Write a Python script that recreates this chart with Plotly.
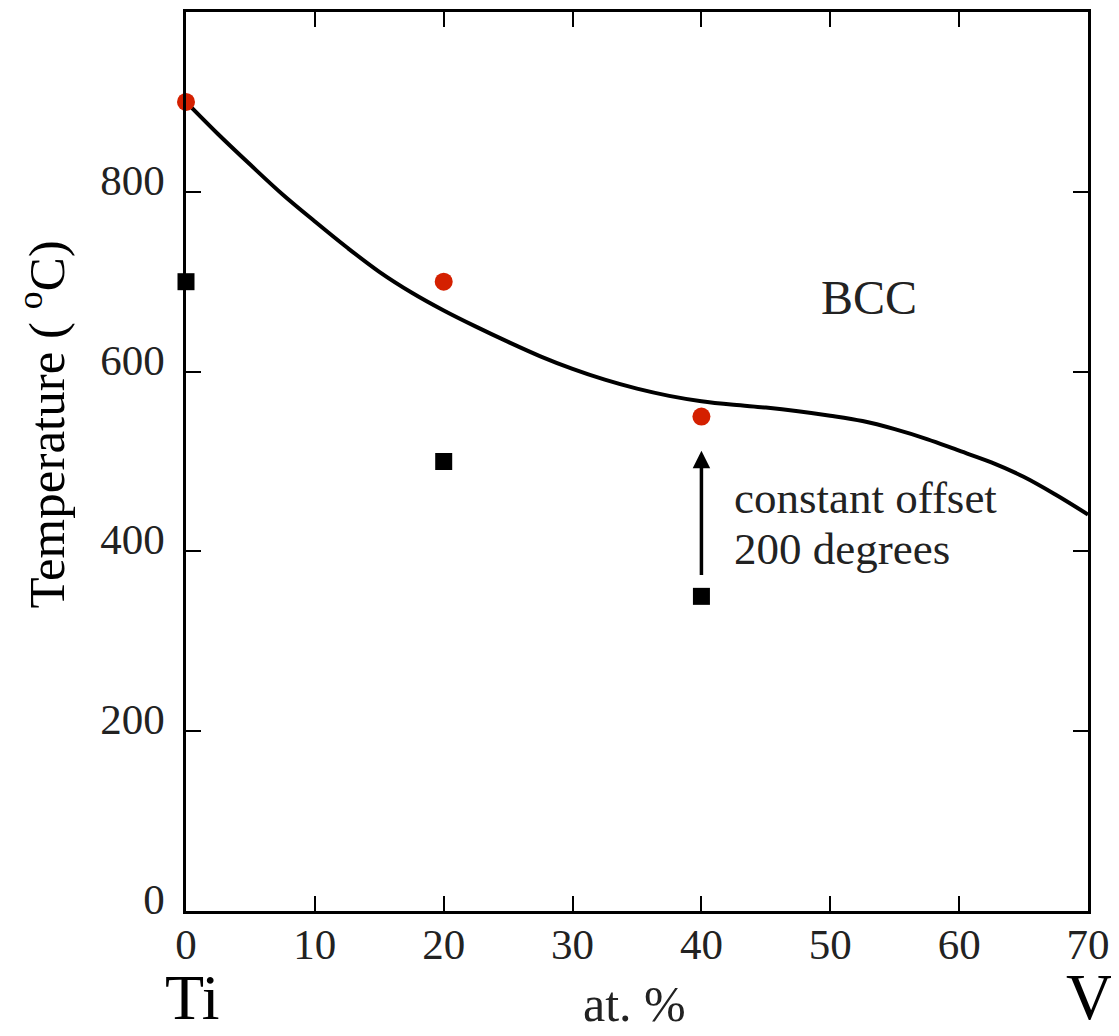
import plotly.graph_objects as go

# Data
curve_x = [0, 2.5, 5, 7.5, 10, 12.5, 15, 17.5, 20, 22.5, 25, 27.5, 30, 32.5, 35, 37.5,
           40, 42.5, 45, 47.5, 50, 52.5, 55, 57.5, 60, 62.5, 65, 67.5, 70]
curve_y = [900, 864, 830, 797, 767, 738, 711, 688, 668, 650, 633, 617, 603, 591, 581, 573,
           567, 563, 560, 556, 551, 545, 536, 525, 512, 499, 483, 463, 441]
red_x = [0, 20, 40]
red_y = [900, 700, 550]
sq_x = [0, 20, 40]
sq_y = [700, 500, 350]
x_ticks = [0, 10, 20, 30, 40, 50, 60, 70]
y_ticks = [0, 200, 400, 600, 800]

FONT = "Liberation Serif, Times New Roman, serif"
TXT = "#222"

fig = go.Figure()
fig.add_trace(go.Scatter(x=curve_x, y=curve_y, mode="lines",
                         line=dict(color="black", width=4, shape="spline", smoothing=1.0),
                         showlegend=False, hoverinfo="skip"))
fig.add_trace(go.Scatter(x=red_x, y=red_y, mode="markers",
                         marker=dict(color="#d42000", size=18, symbol="circle"),
                         cliponaxis=False, showlegend=False))
fig.add_trace(go.Scatter(x=sq_x, y=sq_y, mode="markers",
                         marker=dict(color="black", size=17, symbol="square"),
                         cliponaxis=False, showlegend=False))

axis_common = dict(showline=True, linecolor="black", linewidth=2.5, mirror="ticks",
                   ticks="inside", ticklen=15, tickwidth=2, tickcolor="black",
                   showgrid=False, zeroline=False,
                   tickfont=dict(family=FONT, size=43, color=TXT))

fig.update_xaxes(range=[0, 70], tickvals=x_ticks, ticktext=[str(v) for v in x_ticks],
                 ticklabelstandoff=-6, **axis_common)
fig.update_yaxes(range=[0, 1000], tickvals=y_ticks, ticktext=[str(v) for v in y_ticks],
                 ticklabelstandoff=10, ticklabelshift=-12, **axis_common)

# page-pixel geometry (the figure sits at an 8px offset in the page)
OFF = 8
W, H = 1119 - OFF, 1036 - OFF
PL, PR, PT, PB = 186, 1088, 9, 911   # plot area in page pixels
L, R, T, B = PL - OFF, 1119 - PR, PT - OFF, 1036 - PB
pw, ph = PR - PL, PB - PT

def px(xp):
    return (xp - PL) / pw

def py(yp):
    return (PB - yp) / ph

annotations = [
    dict(x=40, y=512, ax=40, ay=372, xref="x", yref="y", axref="x", ayref="y",
         showarrow=True, arrowhead=2, arrowsize=1, arrowwidth=3.5, arrowcolor="black", text=""),
    dict(x=42.4, y=459, xref="x", yref="y", text="constant offset",
         showarrow=False, xanchor="left", yanchor="middle",
         font=dict(family=FONT, size=45, color=TXT)),
    dict(x=42.4, y=403, xref="x", yref="y", text="200 degrees",
         showarrow=False, xanchor="left", yanchor="middle",
         font=dict(family=FONT, size=45, color=TXT)),
    dict(x=53, y=682, xref="x", yref="y", text="BCC", showarrow=False,
         font=dict(family=FONT, size=48, color=TXT)),
    dict(x=px(42), y=py(423), xref="paper", yref="paper", xanchor="center", yanchor="middle",
         text="Temperature ( <sup>o</sup>C)", textangle=-90, showarrow=False,
         font=dict(family=FONT, size=51, color="black")),
    dict(x=px(192), y=py(998), xref="paper", yref="paper", text="Ti", showarrow=False,
         xanchor="center", yanchor="middle",
         font=dict(family=FONT, size=64, color="black")),
    dict(x=px(1089), y=py(997), xref="paper", yref="paper", text="V", showarrow=False,
         xanchor="center", yanchor="middle",
         font=dict(family=FONT, size=65, color="black")),
    dict(x=px(634), y=py(1004), xref="paper", yref="paper", text="at. %", showarrow=False,
         xanchor="center", yanchor="middle",
         font=dict(family=FONT, size=50, color=TXT)),
]

fig.update_layout(width=W, height=H, margin=dict(l=L, r=R, t=T, b=B),
                  plot_bgcolor="white", paper_bgcolor="white",
                  annotations=annotations, font=dict(family=FONT))

fig.write_html("out.html")
